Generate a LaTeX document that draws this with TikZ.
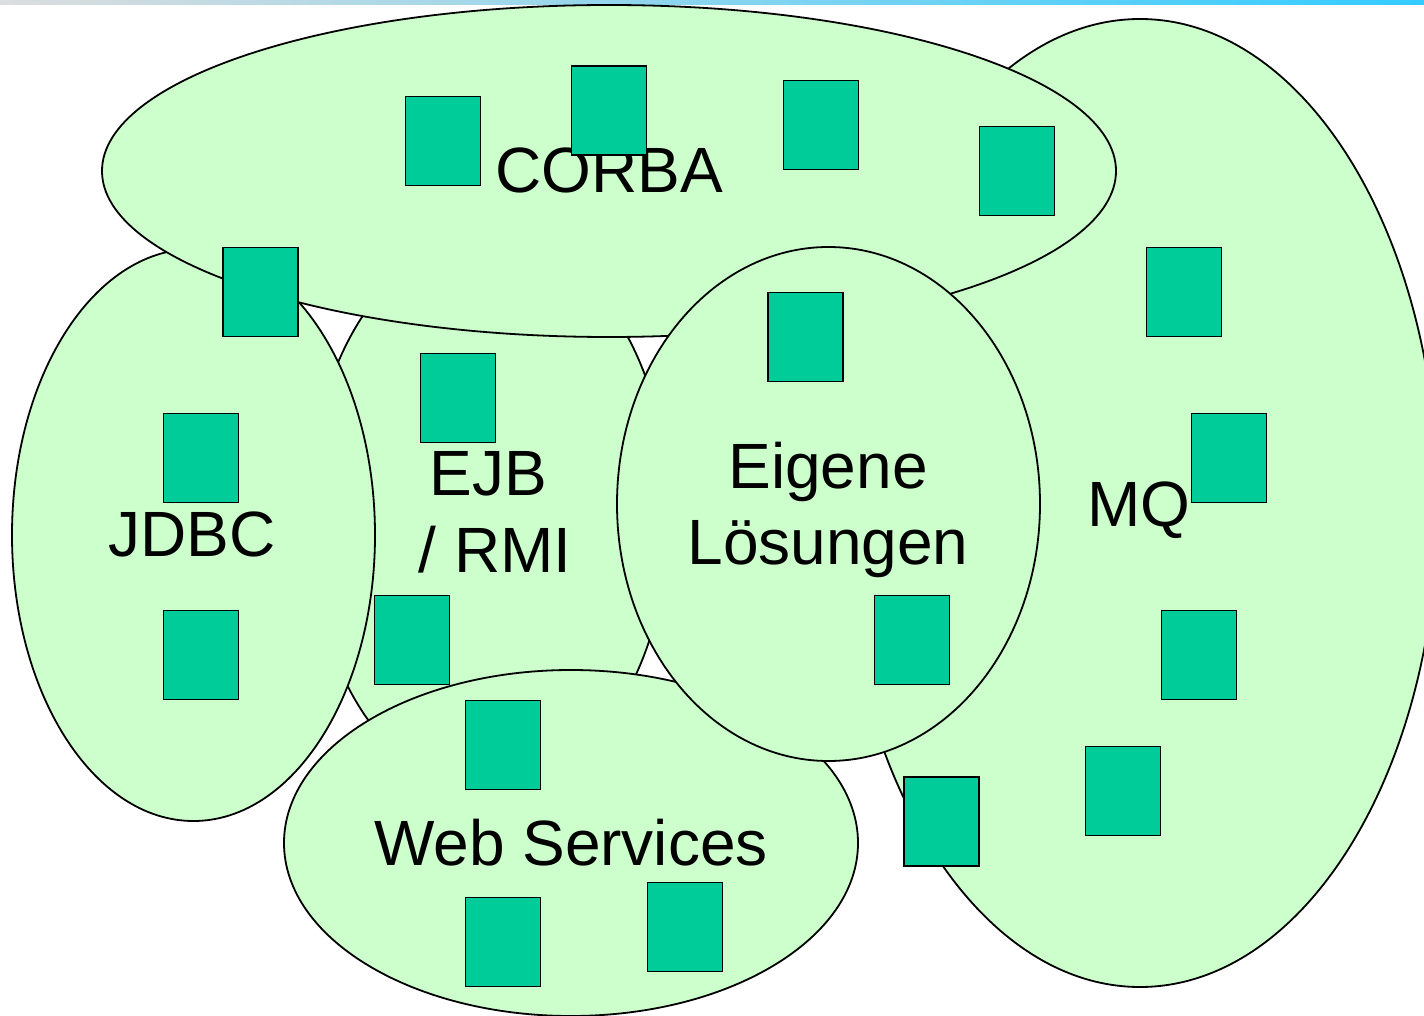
\documentclass[tikz,border=0pt]{standalone}
\usepackage{fontspec}
\setmainfont{Liberation Sans}
\usetikzlibrary{positioning}
\definecolor{setgreen}{RGB}{204,255,204}
\definecolor{boxgreen}{RGB}{0,204,153}
\definecolor{barleft}{RGB}{220,221,222}
\definecolor{barmid}{RGB}{178,214,234}
\definecolor{barright}{RGB}{51,204,255}

\begin{document}
\begin{tikzpicture}[
  x = 0.5pt, y = -0.5pt,
  blob/.style = {draw,fill=setgreen,line width=0.9pt},
  box/.style = {draw,fill=boxgreen,line width=0.9pt,inner sep=0pt,minimum width=37.5pt,minimum height=44.5pt},
  lbl/.style = {font=\fontsize{32}{38.4}\selectfont,align=center,inner sep=0pt}
  ]
  \useasboundingbox (0,0) rectangle (1424,1016);
  \clip (0,0) rectangle (1424,1016);
  \shade[left color=barleft,middle color=barmid,right color=barright] (0,0) rectangle (1424,5);

  % the sets, back to front
  \draw[blob] (1140,503) ellipse [x radius=298, y radius=484];
  \draw[blob] (489,514) ellipse [x radius=180, y radius=278];
  \draw[blob] (193.5,535) ellipse [x radius=181.5, y radius=286];
  \draw[blob] (609,171) ellipse [x radius=507, y radius=166];
  \draw[blob] (571,843) ellipse [x radius=287, y radius=173];
  \draw[blob] (828.5,504) ellipse [x radius=211.5, y radius=257];

  \node[lbl,anchor=base] (corba) at (609.5,193) {CORBA};
  \node[lbl,anchor=base] (jdbc) at (192,556) {JDBC};
  \node[lbl] (ejb) at (495,512) {EJB\kern7pt\\/ RMI};
  \node[lbl] (eigene) at (828,510) {Eigene\\Lösungen};
  \node[lbl,anchor=base] (mq) at (1139,526) {MQ};
  \node[lbl,anchor=base] (ws) at (571,865) {Web Services};

  % components
  \node[box] (@1) at (443,141) {};
  \node[box] (@2) at (609,110.5) {};
  \node[box] (@3) at (821,125) {};
  \node[box] (@4) at (1017,171) {};
  \node[box] (@5) at (260.5,292) {};
  \node[box] (@6) at (1184,292) {};
  \node[box] (@7) at (805.5,337) {};
  \node[box] (@8) at (458,398) {};
  \node[box] (@9) at (201,458) {};
  \node[box] (@10) at (1229,458) {};
  \node[box] (@11) at (201,655) {};
  \node[box] (@12) at (412,640) {};
  \node[box] (@13) at (912,640) {};
  \node[box] (@14) at (1199,655) {};
  \node[box] (@15) at (503,745) {};
  \node[box] (@16) at (1123,791) {};
  \node[box] (@17) at (941.5,821.5) {};
  \node[box] (@18) at (503,942) {};
  \node[box] (@19) at (685,927) {};
\end{tikzpicture}
\end{document}
